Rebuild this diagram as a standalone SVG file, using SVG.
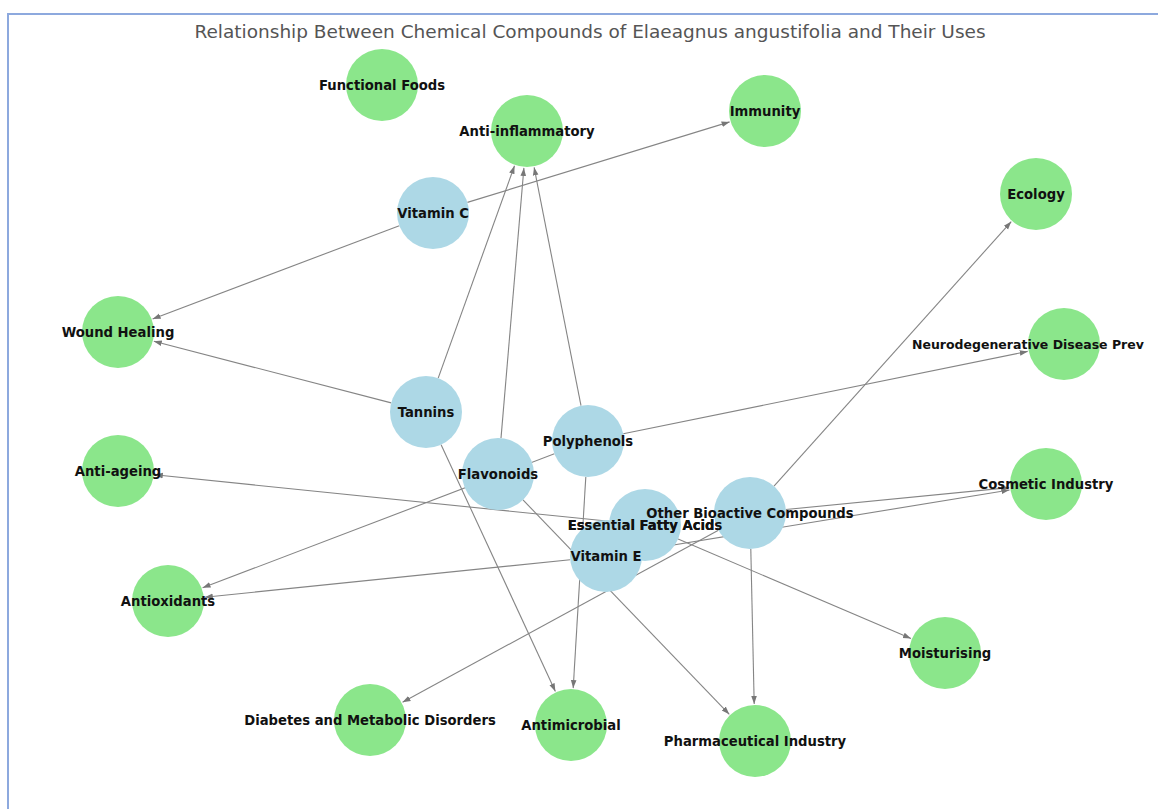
<svg xmlns="http://www.w3.org/2000/svg" width="1158" height="809" viewBox="0 0 1158 809">
<defs>
<style>
.edge{stroke:#858585;stroke-width:1.1;fill:none;marker-end:url(#arr)}
.use{fill:#8BE68B}
.cmp{fill:#ADD8E6}
.lbl{font-family:"DejaVu Sans","Liberation Sans",sans-serif;font-size:13.2px;font-weight:bold;fill:#111;text-anchor:middle}
.title{font-family:"DejaVu Sans","Liberation Sans",sans-serif;font-size:18.5px;fill:#555;text-anchor:middle}
</style>
<marker id="arr" viewBox="0 0 10 10" refX="10" refY="5" markerWidth="8" markerHeight="8" markerUnits="userSpaceOnUse" orient="auto"><path d="M0,1.5L10,5L0,8.5z" fill="#777"/></marker>
</defs>
<rect width="1158" height="809" fill="#fff"/>
<path d="M8,809V14H1158" fill="none" stroke="#8DA9DE" stroke-width="2"/>
<text class="title" x="590" y="37.5">Relationship Between Chemical Compounds of Elaeagnus angustifolia and Their Uses</text>
<g id="edges">
<line class="edge" x1="467.4" y1="202.4" x2="729.6" y2="121.9"/>
<line class="edge" x1="399.3" y1="225.7" x2="152.6" y2="318.9"/>
<line class="edge" x1="391.2" y1="402.9" x2="153.8" y2="341.3"/>
<line class="edge" x1="438.2" y1="378.1" x2="514.5" y2="165.8"/>
<line class="edge" x1="441.1" y1="444.7" x2="555.4" y2="691.4"/>
<line class="edge" x1="501" y1="438.1" x2="523.9" y2="167.9"/>
<line class="edge" x1="523" y1="499.9" x2="729.3" y2="714.3"/>
<line class="edge" x1="581" y1="405.7" x2="534.1" y2="167.3"/>
<line class="edge" x1="623.3" y1="433.8" x2="1027.7" y2="351.4"/>
<line class="edge" x1="554.4" y1="453.8" x2="202.6" y2="587.8"/>
<line class="edge" x1="585.8" y1="476.9" x2="573.2" y2="688.1"/>
<line class="edge" x1="609.2" y1="521.3" x2="154.8" y2="474.8"/>
<line class="edge" x1="678.1" y1="539.1" x2="911" y2="638.5"/>
<line class="edge" x1="570.2" y1="559.7" x2="204.8" y2="597.2"/>
<line class="edge" x1="641.5" y1="550.2" x2="1009.5" y2="490"/>
<line class="edge" x1="774" y1="486.2" x2="1011.3" y2="221.6"/>
<line class="edge" x1="750.8" y1="549" x2="754.2" y2="704"/>
<line class="edge" x1="718.4" y1="530.2" x2="402.5" y2="702.3"/>
<line class="edge" x1="785.8" y1="509.5" x2="1009.2" y2="487.6"/>
</g>
<g id="node-functional-foods"><circle class="use" cx="382" cy="85" r="36"/><text class="lbl" x="382" y="89.5">Functional Foods</text></g>
<g id="node-anti-inflammatory"><circle class="use" cx="527" cy="131" r="36"/><text class="lbl" x="527" y="135.5">Anti-inflammatory</text></g>
<g id="node-immunity"><circle class="use" cx="765" cy="111" r="36"/><text class="lbl" x="765" y="115.5">Immunity</text></g>
<g id="node-ecology"><circle class="use" cx="1036" cy="194" r="36"/><text class="lbl" x="1036" y="198.5">Ecology</text></g>
<g id="node-wound-healing"><circle class="use" cx="118" cy="332" r="36"/><text class="lbl" x="118" y="336.5">Wound Healing</text></g>
<g id="node-neurodegenerative"><circle class="use" cx="1064" cy="344" r="36"/><text class="lbl" x="912" y="348.5" style="text-anchor:start;font-size:12.5px">Neurodegenerative Disease Prev</text></g>
<g id="node-anti-ageing"><circle class="use" cx="118" cy="471" r="36"/><text class="lbl" x="118" y="475.5">Anti-ageing</text></g>
<g id="node-cosmetic-industry"><circle class="use" cx="1046" cy="484" r="36"/><text class="lbl" x="1046" y="488.5">Cosmetic Industry</text></g>
<g id="node-antioxidants"><circle class="use" cx="168" cy="601" r="36"/><text class="lbl" x="168" y="605.5">Antioxidants</text></g>
<g id="node-moisturising"><circle class="use" cx="945" cy="653" r="36"/><text class="lbl" x="945" y="657.5">Moisturising</text></g>
<g id="node-diabetes"><circle class="use" cx="370" cy="720" r="36"/><text class="lbl" x="370" y="724.5">Diabetes and Metabolic Disorders</text></g>
<g id="node-antimicrobial"><circle class="use" cx="571" cy="725" r="36"/><text class="lbl" x="571" y="729.5">Antimicrobial</text></g>
<g id="node-pharmaceutical-industry"><circle class="use" cx="755" cy="741" r="36"/><text class="lbl" x="755" y="745.5">Pharmaceutical Industry</text></g>
<g id="node-vitamin-c"><circle class="cmp" cx="433" cy="213" r="36"/><text class="lbl" x="433" y="217.5">Vitamin C</text></g>
<g id="node-tannins"><circle class="cmp" cx="426" cy="412" r="36"/><text class="lbl" x="426" y="416.5">Tannins</text></g>
<g id="node-polyphenols"><circle class="cmp" cx="588" cy="441" r="36"/><text class="lbl" x="588" y="445.5">Polyphenols</text></g>
<g id="node-flavonoids"><circle class="cmp" cx="498" cy="474" r="36"/><text class="lbl" x="498" y="478.5">Flavonoids</text></g>
<g id="node-essential-fatty-acids"><circle class="cmp" cx="645" cy="525" r="36"/><text id="lbl-efa" class="lbl" x="645" y="529.5">Essential Fatty Acids</text></g>
<g id="node-vitamin-e"><circle class="cmp" cx="606" cy="556" r="36"/><text class="lbl" x="606" y="560.5">Vitamin E</text></g>
<g id="node-other-bioactive"><circle class="cmp" cx="750" cy="513" r="36"/><text class="lbl" x="750" y="517.5">Other Bioactive Compounds</text></g>
<g id="label-overlay"><use href="#lbl-efa"/></g>
</svg>
